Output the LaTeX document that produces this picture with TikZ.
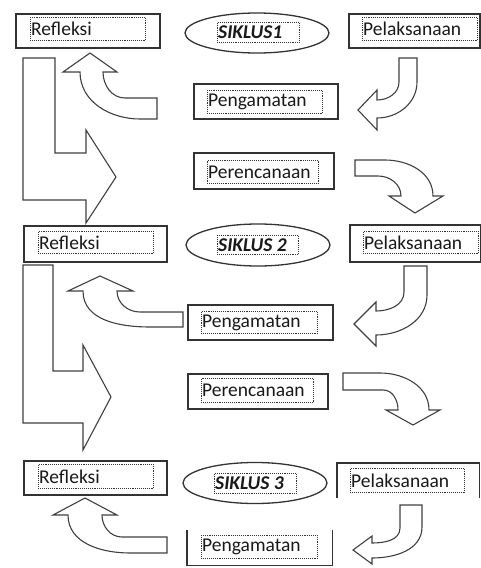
\documentclass[tikz,border=0pt]{standalone}
\usepackage{fontspec}
\setmainfont{Carlito}
\usetikzlibrary{shapes.geometric}
\begin{document}
\begin{tikzpicture}[x=1pt,y=-1pt,
  boxline/.style={draw=black!80, line width=1.5pt},
  box/.style={boxline, fill=white, inner sep=0pt, anchor=north west},
  hbox/.style={inner sep=0pt, anchor=north west},
  inbox/.style={draw=black!80, densely dotted, line width=0.9pt, inner sep=0pt, anchor=north west},
  oval/.style={ellipse, draw=black!80, line width=1.3pt, fill=white, inner sep=0pt},
  arr/.style={draw=black!75, line width=1.1pt, fill=white, line join=miter},
  lbl/.style={font=\fontsize{19.5}{22}\selectfont, inner sep=1pt, anchor=west, text=black!90},
  cyc/.style={font=\fontsize{19.5}{22}\selectfont\bfseries\itshape, inner sep=1pt, anchor=west, text=black!90}]
\useasboundingbox (0,0) rectangle (481,568);

% ---------- block arrows ----------
% big L arrows
\draw[arr] (23,58) -- (55,58) -- (55,153) -- (86,153) -- (86,130) -- (116,177) -- (86,223) -- (86,200) -- (23,200) -- cycle;
\draw[arr] (23,265) -- (53,265) -- (53,371) -- (83,371) -- (83,345) -- (111,397) -- (83,450) -- (83,423) -- (23,423) -- cycle;
% curved up arrows
\draw[arr] (90,53) -- (117,72) -- (103,72) to[out=-90,in=180] (125,98) -- (157,98) -- (157,119) -- (140,119) to[out=180,in=-90] (80,72) -- (63,72) -- cycle;
\draw[arr] (100,276) -- (133,291) -- (117,291) to[out=-90,in=180] (140,312) -- (183,312) -- (183,327) -- (150,327) to[out=180,in=-90] (83,291) -- (68,291) -- cycle;
\draw[arr] (85,498) -- (117,515) -- (102,515) to[out=-90,in=180] (122,537) -- (167,537) -- (167,553) -- (130,553) to[out=180,in=-90] (68,515) -- (53,515) -- cycle;
% down-left arrows
\draw[arr] (399,58) -- (417,58) -- (417,82) to[out=-90,in=0] (377,118) -- (377,130) -- (358,110) -- (377,90) -- (377,100) to[out=0,in=-90] (399,82) -- cycle;
\draw[arr] (404,266) -- (427,266) -- (427,295) to[out=-90,in=0] (376,335) -- (376,346) -- (354,324) -- (376,302) -- (376,311) to[out=0,in=-90] (404,292) -- cycle;
\draw[arr] (400,505) -- (422,505) -- (422,527) to[out=-90,in=0] (372,558) -- (372,564) -- (353,550) -- (372,536) -- (372,543) to[out=0,in=-90] (400,528) -- cycle;
% right-down arrows
\draw[arr] (355,160) -- (385,160) to[out=0,in=90] (433,196) -- (443,196) -- (415,213) -- (389,196) -- (401,196) to[out=90,in=0] (378,176) -- (355,176) -- cycle;
\draw[arr] (343,373) -- (380,373) to[out=0,in=90] (429,410) -- (440,410) -- (413,425) -- (386,410) -- (398,410) to[out=90,in=0] (383,390) -- (343,390) -- cycle;

% ---------- cycle 1 ----------
\node[box, minimum width=144pt, minimum height=34pt] (r1) at (15,13) {};
\node[inbox, minimum width=115pt, minimum height=23pt] (r1i) at (30,17) {};
\node[lbl] at (r1i.west) {Refleksi};
\node[oval, minimum width=144pt, minimum height=40pt] (s1) at (257,33) {};
\node[inbox, minimum width=82pt, minimum height=20pt] (s1i) at (217,22) {};
\node[cyc] at (s1i.west) {SIKLUS1};
\node[box, minimum width=131pt, minimum height=34pt] (p1) at (348,13) {};
\node[inbox, minimum width=115pt, minimum height=23pt] (p1i) at (362,17) {};
\node[lbl] at (p1i.west) {Pelaksanaan};
\node[box, minimum width=144pt, minimum height=35pt] (g1) at (193,83) {};
\node[inbox, minimum width=115pt, minimum height=23pt] (g1i) at (207,90) {};
\node[lbl] at (g1i.west) {Pengamatan};
\node[box, minimum width=140pt, minimum height=36pt] (c1) at (193,152) {};
\node[inbox, minimum width=111pt, minimum height=23pt] (c1i) at (207,160) {};
\node[lbl] at (c1i.west) {Perencanaan};

% ---------- cycle 2 ----------
\node[box, minimum width=143pt, minimum height=36pt] (r2) at (23,225) {};
\node[inbox, minimum width=115pt, minimum height=22pt] (r2i) at (38,231) {};
\node[lbl] at (r2i.west) {Refleksi};
\node[oval, minimum width=144pt, minimum height=42pt] (s2) at (258,245) {};
\node[inbox, minimum width=81pt, minimum height=19pt] (s2i) at (217,235) {};
\node[cyc] at (s2i.west) {SIKLUS 2};
\node[box, minimum width=131pt, minimum height=37pt] (p2) at (349,224) {};
\node[inbox, minimum width=115pt, minimum height=22pt] (p2i) at (363,231) {};
\node[lbl] at (p2i.west) {Pelaksanaan};
\node[box, minimum width=145pt, minimum height=35pt] (g2) at (187,304) {};
\node[inbox, minimum width=116pt, minimum height=22pt] (g2i) at (201,311) {};
\node[lbl] at (g2i.west) {Pengamatan};
\node[box, minimum width=140pt, minimum height=35pt] (c2) at (187,373) {};
\node[inbox, minimum width=112pt, minimum height=24pt] (c2i) at (201,378) {};
\node[lbl] at (c2i.west) {Perencanaan};

% ---------- cycle 3 ----------
\node[box, minimum width=143pt, minimum height=34pt] (r3) at (23,460) {};
\node[inbox, minimum width=115pt, minimum height=24pt] (r3i) at (38,464) {};
\node[lbl] at (r3i.west) {Refleksi};
\node[oval, minimum width=144pt, minimum height=41pt] (s3) at (255,483) {};
\node[inbox, minimum width=82pt, minimum height=20pt] (s3i) at (214,473) {};
\node[cyc] at (s3i.west) {SIKLUS 3};
\node[hbox, minimum width=142pt, minimum height=35pt] (p3) at (337,463) {};
\draw[boxline] (p3.south west) -- (p3.north west) -- (p3.north east) -- (p3.south east);
\node[inbox, minimum width=114pt, minimum height=24pt] (p3i) at (350,468) {};
\node[lbl] at (p3i.west) {Pelaksanaan};
\node[hbox, minimum width=145pt, minimum height=35pt] (g3) at (187,530) {};
\draw[boxline] (g3.north west) -- (g3.south west) -- (g3.south east) -- (g3.north east);
\node[inbox, minimum width=116pt, minimum height=23pt] (g3i) at (201,535) {};
\node[lbl] at (g3i.west) {Pengamatan};
\end{tikzpicture}
\end{document}
